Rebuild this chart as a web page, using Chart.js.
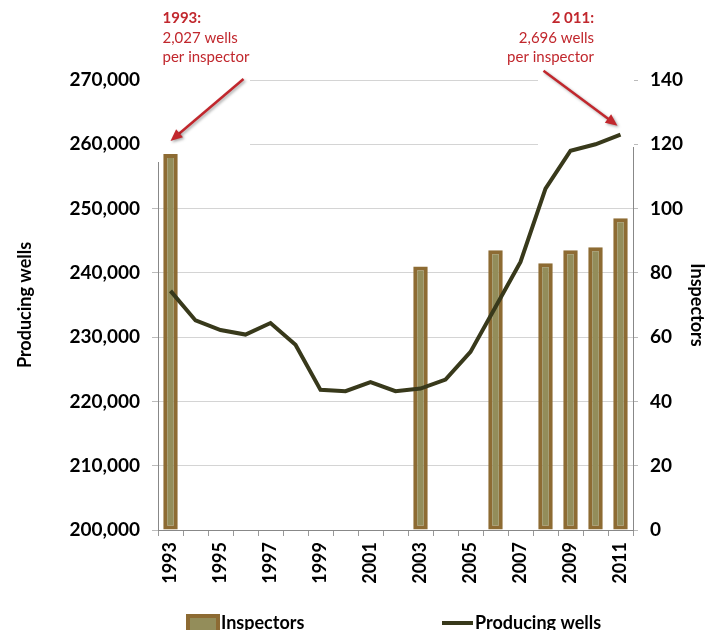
<!DOCTYPE html>
<html>
<head>
<meta charset="utf-8">
<script src="https://cdn.jsdelivr.net/npm/chart.js@4.4.1/dist/chart.umd.min.js"></script>
<style>
  html, body { margin: 0; padding: 0; background: #fff; }
  #wrap { width: 713px; height: 630px; }
</style>
</head>
<body>
<div id="wrap"><canvas id="myChart"></canvas></div>
<script>
let years = ['1993', '1994', '1995', '1996', '1997', '1998', '1999', '2000', '2001', '2002',
  '2003', '2004', '2005', '2006', '2007', '2008', '2009', '2010', '2011'];
let inspectors = [117, null, null, null, null, null, null, null, null, null,
  82, null, null, 87, null, 83, 87, 88, 97];
let producingWells = [237200, 232600, 231100, 230400, 232200, 228800, 221800, 221600, 223000, 221600,
  222000, 223400, 227700, 234700, 241700, 253100, 259000, 260000, 261500];
let noteLeft = ['1993:', '2,027 wells', 'per inspector'];
let noteRight = ['2 011:', '2,696 wells', 'per inspector'];

let red = '#c1272d';
let barFill = '#938d5a';
let barEdge = '#8d6b33';
let lineColor = '#38391b';
let fontFam = 'Lato, "Liberation Sans", sans-serif';

function arrow(ctx, x1, y1, x2, y2) {
  let a = Math.atan2(y2 - y1, x2 - x1);
  let head = 13;
  ctx.beginPath();
  ctx.moveTo(x1, y1);
  ctx.lineTo(x2 - head * 0.8 * Math.cos(a), y2 - head * 0.8 * Math.sin(a));
  ctx.stroke();
  ctx.beginPath();
  ctx.moveTo(x2, y2);
  ctx.lineTo(x2 - head * Math.cos(a - 0.42), y2 - head * Math.sin(a - 0.42));
  ctx.lineTo(x2 - head * Math.cos(a + 0.42), y2 - head * Math.sin(a + 0.42));
  ctx.closePath();
  ctx.fill();
}

// white boxes behind the callouts hide the top of the grid, like in the original
const coverPlugin = {
  id: 'cover',
  beforeDatasetsDraw(chart) {
    let {ctx, chartArea} = chart;
    ctx.save();
    ctx.fillStyle = '#fff';
    ctx.fillRect(150, 0, 250 - 150, 162);
    ctx.fillRect(538, 0, chartArea.right + 1 - 538, 147);
    ctx.restore();
  }
};

const notesPlugin = {
  id: 'notes',
  afterDraw(chart) {
    let ctx = chart.ctx;
    let xs = chart.scales.x;
    let ys = chart.scales.y;
    let y1 = chart.scales.y1;
    ctx.save();

    // callout texts
    ctx.fillStyle = red;
    let base = [23, 43, 62];
    let lx = xs.getPixelForValue(0) - 8;
    let rx = 594;
    for (let i = 0; i < 3; i++) {
      ctx.font = (i === 0 ? 'bold ' : '') + '15px ' + fontFam;
      ctx.textAlign = 'left';
      ctx.fillText(noteLeft[i], lx, base[i]);
      ctx.textAlign = 'right';
      ctx.fillText(noteRight[i], rx, base[i]);
    }

    // arrows
    ctx.strokeStyle = red;
    ctx.lineWidth = 2.5;
    ctx.shadowColor = 'rgba(0,0,0,0.35)';
    ctx.shadowBlur = 3;
    ctx.shadowOffsetX = 1.5;
    ctx.shadowOffsetY = 1.5;
    let ex1 = xs.getPixelForValue(0);
    let ey1 = y1.getPixelForValue(inspectors[0]) - 13;
    arrow(ctx, ex1 + 73, ys.getPixelForValue(270000) - 1, ex1, ey1);
    let ex2 = xs.getPixelForValue(18) - 3;
    let ey2 = ys.getPixelForValue(producingWells[18]) - 9;
    arrow(ctx, ex2 - 74, ey2 - 55, ex2, ey2);
    ctx.shadowColor = 'transparent';

    // legend
    ctx.font = 'bold 18px ' + fontFam;
    ctx.textAlign = 'left';
    ctx.fillStyle = barFill;
    ctx.strokeStyle = barEdge;
    ctx.lineWidth = 4;
    ctx.fillRect(188, 616, 30, 20);
    ctx.strokeRect(188, 616, 30, 20);
    ctx.fillStyle = '#000';
    ctx.fillText(chart.data.datasets[1].label, 221, 629);
    ctx.strokeStyle = lineColor;
    ctx.lineWidth = 4;
    ctx.beginPath();
    ctx.moveTo(442, 623);
    ctx.lineTo(473, 623);
    ctx.stroke();
    ctx.fillText(chart.data.datasets[0].label, 475, 629);
    ctx.restore();
  }
};

let ctx = document.getElementById('myChart').getContext('2d');

let myChart = new Chart(ctx, {
  type: 'bar',
  data: {
    labels: years,
    datasets: [{
      type: 'line',
      label: 'Producing wells',
      data: producingWells,
      yAxisID: 'y',
      borderColor: lineColor,
      borderWidth: 4,
      pointRadius: 0,
      tension: 0,
      order: 1
    }, {
      type: 'bar',
      label: 'Inspectors',
      data: inspectors,
      yAxisID: 'y1',
      backgroundColor: barFill,
      borderColor: barEdge,
      borderWidth: 4,
      borderSkipped: false,
      barPercentage: 0.58,
      categoryPercentage: 1.0,
      order: 2
    }]
  },
  options: {
    responsive: true,
    maintainAspectRatio: false,
    animation: false,
    layout: { padding: { top: 80, left: 0, right: 0, bottom: 0 } },
    plugins: {
      legend: { display: false },
      tooltip: { enabled: false }
    },
    scales: {
      x: {
        offset: true,
        grid: { offset: true, drawOnChartArea: false, tickLength: 6, color: '#999' },
        border: { color: '#888' },
        ticks: {
          autoSkip: false,
          minRotation: 90,
          maxRotation: 90,
          padding: 6,
          color: '#000',
          font: { family: fontFam, size: 18, weight: 'bold' },
          callback: function (v, i) { return i % 2 === 0 ? this.getLabelForValue(v) : ''; }
        },
        afterFit: (s) => { s.height = 100; }
      },
      y: {
        position: 'left',
        min: 200000,
        max: 270000,
        grid: { color: '#d4d4d4', tickLength: 6, tickColor: '#bbb' },
        border: { color: '#888' },
        ticks: {
          stepSize: 10000,
          padding: 12,
          color: '#000',
          font: { family: fontFam, size: 19, weight: 'bold' },
          callback: (v) => v.toLocaleString('en-US')
        },
        title: {
          display: true,
          text: 'Producing wells',
          color: '#000',
          font: { family: fontFam, size: 18, weight: 'bold' },
          padding: { top: 14, bottom: 0 }
        },
        afterFit: (s) => { s.width = 158; }
      },
      y1: {
        position: 'right',
        min: 0,
        max: 140,
        grid: { drawOnChartArea: false, tickLength: 5, tickColor: '#bbb' },
        border: { color: '#888' },
        ticks: {
          stepSize: 20,
          padding: 12,
          color: '#000',
          font: { family: fontFam, size: 19, weight: 'bold' }
        },
        title: {
          display: true,
          text: 'Inspectors',
          color: '#000',
          font: { family: fontFam, size: 18, weight: 'bold' },
          padding: { top: 5, bottom: 0 }
        },
        afterFit: (s) => { s.width = 80; }
      }
    }
  },
  plugins: [coverPlugin, notesPlugin]
});
</script>
</body>
</html>
